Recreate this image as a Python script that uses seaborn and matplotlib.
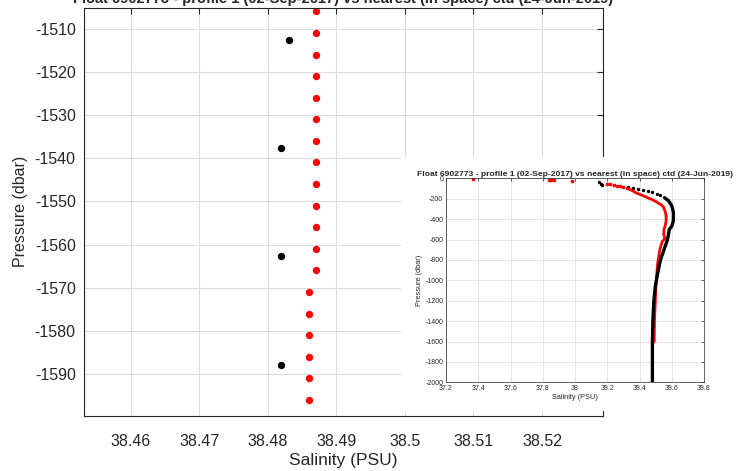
import matplotlib
matplotlib.use("Agg")
import matplotlib.pyplot as plt
from matplotlib.patches import Rectangle
import pandas as pd
import seaborn as sns

# zoomed view (deep end of the profile)
float_pres_zoom = [-1506, -1511, -1516, -1521, -1526, -1531, -1536, -1541, -1546, -1551,
                   -1556, -1561, -1566, -1571, -1576, -1581, -1586, -1591, -1596]
float_sal_zoom = [38.487, 38.487, 38.487, 38.487, 38.487, 38.487, 38.487, 38.487, 38.487, 38.487,
                  38.487, 38.487, 38.487, 38.486, 38.486, 38.486, 38.486, 38.486, 38.486]
ctd_pres_zoom = [-1512.7, -1537.7, -1562.7, -1588.0]
ctd_sal_zoom = [38.4831, 38.4820, 38.4820, 38.4820]

# full profiles (inset)
float_sal_top = [37.37, 37.84, 37.85, 37.86, 37.87, 37.98, 38.20, 38.22, 38.24, 38.26, 38.28, 38.30, 38.32]
float_pres_top = [-5, -12, -18, -8, -14, -22, -58, -52, -70, -72, -80, -84, -92]
float_sal = [38.33, 38.36, 38.38, 38.415, 38.445, 38.48, 38.51, 38.535, 38.55, 38.56, 38.565,
             38.565, 38.56, 38.552, 38.55, 38.558, 38.541, 38.526, 38.513, 38.504, 38.498,
             38.493, 38.491]
float_pres = [-100, -125, -144, -165, -187, -210, -236, -260, -285, -330, -367,
              -420, -460, -501, -550, -590, -620, -699, -830, -994, -1201,
              -1388, -1602]
ctd_sal_top = [38.15, 38.16, 38.17, 38.33, 38.36, 38.39, 38.42, 38.45, 38.48, 38.51, 38.53]
ctd_pres_top = [-40, -52, -62, -85, -92, -100, -110, -122, -135, -150, -168]
ctd_sal = [38.555, 38.58, 38.60, 38.61, 38.61, 38.60, 38.585, 38.574, 38.552, 38.53, 38.513,
           38.498, 38.489, 38.483, 38.48, 38.48, 38.48]
ctd_pres = [-190, -220, -269, -334, -416, -470, -501, -600, -699, -800, -928,
            -1060, -1201, -1398, -1602, -1815, -2000]

main_xticks = [38.46, 38.47, 38.48, 38.49, 38.5, 38.51, 38.52]
main_xlabels = ["38.46", "38.47", "38.48", "38.49", "38.5", "38.51", "38.52"]
main_yticks = [-1590, -1580, -1570, -1560, -1550, -1540, -1530, -1520, -1510]
inset_xticks = [37.2, 37.4, 37.6, 37.8, 38.0, 38.2, 38.4, 38.6, 38.8]
inset_xlabels = ["37.2", "37.4", "37.6", "37.8", "38", "38.2", "38.4", "38.6", "38.8"]
inset_yticks = list(range(-2000, 1, 200))

title = "Float 6902773 - profile 1 (02-Sep-2017) vs nearest (in space) ctd (24-Jun-2019)"

sns.set_style("white")
plt.rcParams["font.family"] = ["Liberation Sans", "DejaVu Sans"]
plt.rcParams["axes.unicode_minus"] = False
axcol = "#262626"
gridcol = "#dcdcdc"

fig = plt.figure(figsize=(7.52, 4.71), dpi=100)

ax = fig.add_axes([84 / 752, 1 - 415.5 / 471, 519 / 752, 408 / 471])
df_f = pd.DataFrame({"sal": float_sal_zoom, "pres": float_pres_zoom})
df_c = pd.DataFrame({"sal": ctd_sal_zoom, "pres": ctd_pres_zoom})
sns.scatterplot(data=df_c, x="sal", y="pres", color="black", s=28, linewidth=0, ax=ax)
sns.scatterplot(data=df_f, x="sal", y="pres", color="red", s=28, linewidth=0, ax=ax)
ax.set_xlim(38.4532, 38.5289)
ax.set_ylim(-1599.6, -1505.1)
ax.set_xticks(main_xticks)
ax.set_xticklabels(main_xlabels)
ax.set_yticks(main_yticks)
ax.grid(True, color=gridcol, linewidth=0.8)
ax.tick_params(direction="in", length=4, width=0.8, colors=axcol, labelsize=11.5,
               top=True, right=True, labelcolor=axcol)
ax.tick_params(axis="x", pad=13)
ax.tick_params(axis="y", pad=6)
for s in ax.spines.values():
    s.set_color(axcol)
    s.set_linewidth(0.8)
ax.set_xlabel("Salinity (PSU)", fontsize=12.5, color=axcol, labelpad=3)
ax.set_ylabel("Pressure (dbar)", fontsize=11.5, color=axcol, labelpad=5)

fig.text(343.5 / 752, 1 - 2.5 / 471, title, ha="center", va="baseline",
         fontsize=10.5, fontweight="bold")

# white backing box for the inset
fig.add_artist(Rectangle((401 / 752, 1 - 411 / 471), 345 / 752, 254 / 471,
                         transform=fig.transFigure, facecolor="white",
                         edgecolor="none", zorder=1))

ins = fig.add_axes([446 / 752, 1 - 382.3 / 471, 258 / 752, 204 / 471], zorder=2)
df_ft = pd.DataFrame({"sal": float_sal_top, "pres": float_pres_top})
df_fl = pd.DataFrame({"sal": float_sal, "pres": float_pres})
df_ct = pd.DataFrame({"sal": ctd_sal_top, "pres": ctd_pres_top})
df_cl = pd.DataFrame({"sal": ctd_sal, "pres": ctd_pres})
sns.scatterplot(data=df_ft, x="sal", y="pres", color="red", s=7, linewidth=0, ax=ins)
sns.lineplot(data=df_fl, x="sal", y="pres", color="red", linewidth=2.0, sort=False,
             estimator=None, ax=ins)
sns.scatterplot(data=df_ct, x="sal", y="pres", color="black", s=6, linewidth=0, ax=ins)
sns.lineplot(data=df_cl, x="sal", y="pres", color="black", linewidth=2.4, sort=False,
             estimator=None, ax=ins)
ins.set_xlim(37.2, 38.8)
ins.set_ylim(-2000, 0)
ins.set_xticks(inset_xticks)
ins.set_xticklabels(inset_xlabels)
ins.set_yticks(inset_yticks)
ins.grid(True, color=gridcol, linewidth=0.5)
ins.tick_params(direction="in", length=2, width=0.5, colors=axcol, labelsize=5,
                top=True, right=True, pad=2)
for s in ins.spines.values():
    s.set_color(axcol)
    s.set_linewidth(0.5)
ins.set_xlabel("Salinity (PSU)", fontsize=5.3, color=axcol, labelpad=1.5)
ins.set_ylabel("Pressure (dbar)", fontsize=5.3, color=axcol, labelpad=1.5)
ins.set_title(title, fontsize=6.1, fontweight="bold", pad=2)

fig.savefig("out.png", dpi=100)
